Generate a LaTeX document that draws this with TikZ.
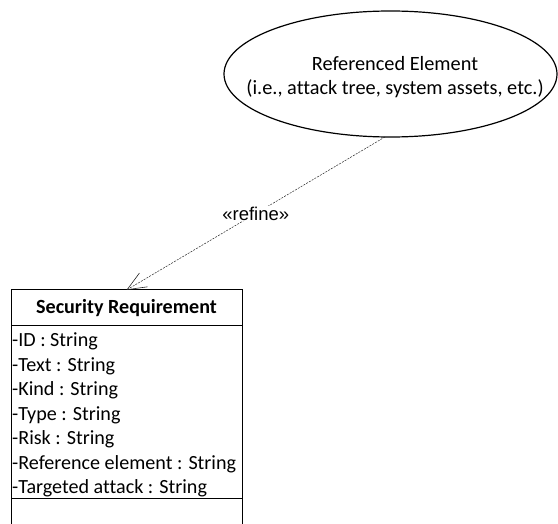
\documentclass[tikz,border=0pt]{standalone}
\usepackage{fontspec}
\setmainfont{Carlito}[Ligatures={NoCommon}]
\newfontfamily\arialfont{Liberation Sans}
\usetikzlibrary{shapes.geometric,arrows.meta}
\tikzset{
  umlline/.style={line width=1pt, draw=black, outer sep=0pt},
  refline/.style={line width=0.5pt, dash pattern=on 2pt off 1.2pt, draw=black!85},
  attr/.style={anchor=base west, inner sep=0pt, font=\fontsize{20.1}{24}\selectfont},
  ellfont/.style={font=\fontsize{20.3}{24}\selectfont}
}
\begin{document}
\begin{tikzpicture}[x=1pt,y=-1pt]
\useasboundingbox (0,0) rectangle (558,524);
% referenced element
\node[ellipse, umlline, line width=1.2pt, minimum width=333, minimum height=126, inner sep=0pt] (ref) at (390.5,74) {};
\node[ellfont, align=center, inner sep=0pt] (reftext) at (395,77) {Referenced Element\\(i.e., attack tree, system assets, etc.)};
% class box
\node[umlline, draw, anchor=north west, minimum width=231, minimum height=36, inner sep=0pt,
      font=\fontsize{20.1}{24}\selectfont\bfseries] (sr) at (11,290) {Security Requirement};
\node[umlline, draw, anchor=north west, minimum width=231, minimum height=172, inner sep=0pt] (attrs) at (sr.south west) {};
\node[attr] (a1) at (12,347) {-ID : String};
\node[attr] (a2) at (12,371.4) {-Text : String};
\node[attr] (a3) at (12,395.8) {-Kind : String};
\node[attr] (a4) at (12,420.2) {-Type : String};
\node[attr] (a5) at (12,444.6) {-Risk : String};
\node[attr] (a6) at (12,469) {-Reference element : String};
\node[attr] (a7) at (12,493.4) {-Targeted attack : String};
\coordinate (bl) at (11,524);
\coordinate (br) at (242,524);
\draw[umlline] (attrs.south west) -- (bl);
\draw[umlline] (attrs.south east) -- (br);
% refine dependency
\draw[refline, -{Straight Barb[length=19pt, width=16pt, line width=0.6pt]}] (ref.-95) -- node[fill=white, inner sep=1pt, font=\arialfont\fontsize{18.5}{20}\selectfont] (lbl) {«refine»} (sr.north);
\end{tikzpicture}
\end{document}
